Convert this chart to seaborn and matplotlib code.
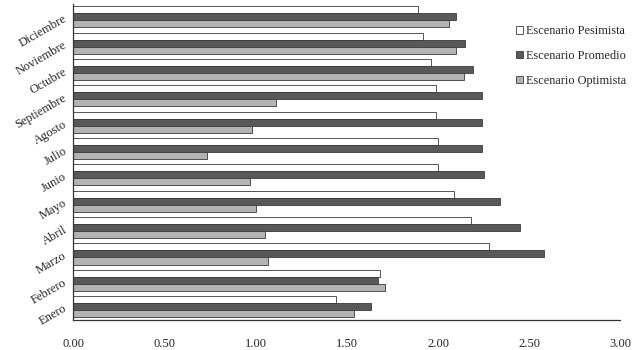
import numpy as np
import matplotlib
matplotlib.use("Agg")
import matplotlib.pyplot as plt
import pandas as pd
import seaborn as sns

# datos
meses = ["Enero", "Febrero", "Marzo", "Abril", "Mayo", "Junio", "Julio",
         "Agosto", "Septiembre", "Octubre", "Noviembre", "Diciembre"]
pesimista = [1.44, 1.68, 2.28, 2.18, 2.09, 2.00, 2.00, 1.99, 1.99, 1.96, 1.92, 1.89]
promedio = [1.63, 1.67, 2.58, 2.45, 2.34, 2.25, 2.24, 2.24, 2.24, 2.19, 2.15, 2.10]
optimista = [1.54, 1.71, 1.07, 1.05, 1.00, 0.97, 0.73, 0.98, 1.11, 2.14, 2.10, 2.06]

series = ["Escenario Pesimista", "Escenario Promedio", "Escenario Optimista"]
colores = ["#ffffff", "#595959", "#b3b3b3"]

df = pd.DataFrame({
    "mes": meses * 3,
    "valor": pesimista + promedio + optimista,
    "escenario": [series[0]] * 12 + [series[1]] * 12 + [series[2]] * 12,
})

sns.set_style("white")
plt.rcParams["font.family"] = ["Liberation Serif", "DejaVu Serif"]

fig = plt.figure(figsize=(6.33, 3.5), dpi=100)
ax = fig.add_axes([0.116, 0.086, 0.864, 0.904])

orden = meses[::-1]
sns.barplot(data=df, x="valor", y="mes", hue="escenario", order=orden,
            hue_order=series, palette=colores, orient="h", width=0.8,
            edgecolor="#3a3a3a", linewidth=0.6, saturation=1, ax=ax)

ax.set_xlim(0, 3.0)
ax.set_ylim(len(meses) - 0.5, -0.5)
ax.set_xticks(np.arange(0, 3.01, 0.5))
ax.set_xticklabels([f"{v:.2f}" for v in np.arange(0, 3.01, 0.5)], fontsize=9)
ax.set_xlabel("")
ax.set_ylabel("")

# etiquetas de meses giradas
ax.set_yticks(range(len(orden)))
ax.set_yticklabels(orden, fontsize=9, rotation=30, ha="right",
                   rotation_mode="anchor")
ax.tick_params(axis="y", length=0, pad=6)
ax.set_yticks(np.arange(-0.5, len(orden)), minor=True)
ax.tick_params(axis="y", which="minor", length=4, width=0.8, color="#333333",
               direction="out")
ax.tick_params(axis="x", length=4, width=0.8, color="#333333",
               direction="out", pad=9)

for lado in ["top", "right"]:
    ax.spines[lado].set_visible(False)
for lado in ["left", "bottom"]:
    ax.spines[lado].set_color("#333333")
    ax.spines[lado].set_linewidth(0.9)

ax.legend(loc="upper left", bbox_to_anchor=(0.795, 0.955), frameon=False,
          fontsize=8.8, handlelength=0.6, handleheight=0.6, handletextpad=0.25,
          labelspacing=1.05, borderaxespad=0.2)

fig.savefig("out.png", dpi=100, facecolor="white")
